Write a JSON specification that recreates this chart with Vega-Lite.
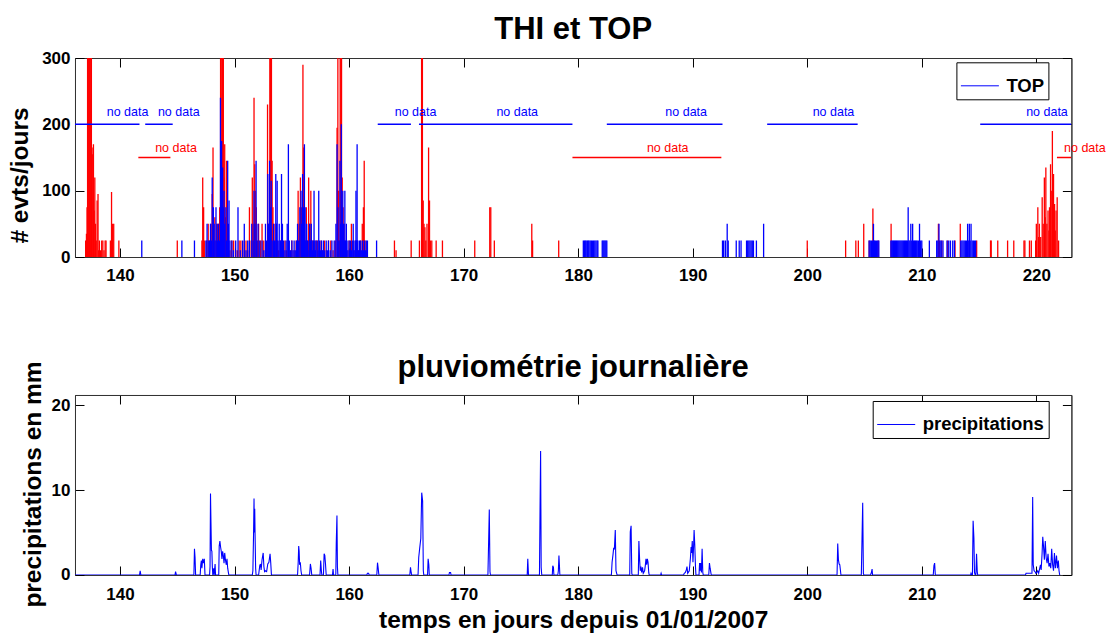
{
  "$schema": "https://vega.github.io/schema/vega-lite/v6.json",
  "padding": {"left": 7, "top": 13, "right": 0, "bottom": 0},
  "autosize": {"type": "pad"},
  "background": "#ffffff",
  "bounds": "flush",
  "spacing": 138,
  "config": {
    "font": "Liberation Sans",
    "view": {"stroke": "#333333", "strokeWidth": 1},
    "axis": {
      "grid": false,
      "domain": true,
      "domainColor": "#333333",
      "tickColor": "#000000",
      "tickSize": -9,
      "labelFontSize": 17,
      "labelFontWeight": "bold",
      "labelColor": "#000000",
      "titleColor": "#000000",
      "titleFontWeight": "bold",
      "titleFontSize": 24.5,
      "zindex": 1
    },
    "legend": {
      "orient": "none",
      "title": null,
      "symbolType": "stroke",
      "symbolSize": 1444,
      "symbolStrokeWidth": 1,
      "labelFontSize": 18.5,
      "labelFontWeight": "bold",
      "labelColor": "#000000",
      "strokeColor": "#000000",
      "fillColor": "#ffffff",
      "padding": 4,
      "labelOffset": 7
    },
    "title": {"font": "Liberation Sans", "fontSize": 31, "fontWeight": "bold", "color": "#000000", "anchor": "middle", "frame": "group", "baseline": "alphabetic"}
  },
  "datasets": {
    "thi": [
      {"d":137.00,"v":25},{"d":137.07,"v":35},{"d":137.12,"v":75},{"d":137.17,"v":350},{"d":137.23,"v":350},{"d":137.28,"v":350},{"d":137.33,"v":350},{"d":137.38,"v":237},{"d":137.44,"v":350},{"d":137.5,"v":350},{"d":137.56,"v":165},{"d":137.62,"v":155},{"d":137.68,"v":170},{"d":137.74,"v":70},{"d":137.8,"v":120},{"d":137.86,"v":50},{"d":137.92,"v":25},{"d":138.0,"v":85},{"d":138.08,"v":95},{"d":138.14,"v":10},{"d":138.2,"v":25},{"d":138.3,"v":10},{"d":138.4,"v":25},{"d":138.5,"v":25},{"d":138.6,"v":10},{"d":138.7,"v":25},{"d":138.78,"v":25},{"d":139.16,"v":25},{"d":139.26,"v":98},{"d":139.35,"v":50},{"d":139.45,"v":50},{"d":139.9,"v":25},
      {"d":145.0,"v":25},
      {"d":147.15,"v":25},{"d":147.22,"v":120},{"d":147.3,"v":75},{"d":147.36,"v":25},{"d":147.55,"v":25},{"d":147.7,"v":50},{"d":147.82,"v":25},{"d":147.95,"v":50},{"d":148.05,"v":95},{"d":148.12,"v":165},{"d":148.2,"v":25},{"d":148.28,"v":60},{"d":148.4,"v":25},{"d":148.5,"v":50},{"d":148.62,"v":50},{"d":148.7,"v":75},{"d":148.78,"v":350},{"d":148.84,"v":350},{"d":148.9,"v":140},{"d":148.96,"v":350},{"d":149.02,"v":350},{"d":149.08,"v":120},{"d":149.14,"v":170},{"d":149.2,"v":60},{"d":149.3,"v":145},{"d":149.38,"v":50},{"d":149.46,"v":25},{"d":149.6,"v":10},{"d":149.75,"v":25},{"d":149.92,"v":25},{"d":150.1,"v":10},{"d":150.25,"v":10},{"d":150.4,"v":25},{"d":150.55,"v":25},{"d":150.7,"v":10},{"d":150.85,"v":25},{"d":151.0,"v":25},{"d":151.15,"v":10},{"d":151.3,"v":75},{"d":151.45,"v":25},{"d":151.55,"v":120},{"d":151.62,"v":50},{"d":151.7,"v":240},{"d":151.76,"v":140},{"d":151.82,"v":100},{"d":151.9,"v":75},{"d":152.0,"v":25},{"d":152.1,"v":50},{"d":152.25,"v":25},{"d":152.4,"v":50},{"d":152.55,"v":25},{"d":152.7,"v":10},{"d":152.88,"v":230},{"d":152.95,"v":50},{"d":153.08,"v":350},{"d":153.15,"v":350},{"d":153.22,"v":350},{"d":153.28,"v":145},{"d":153.35,"v":75},{"d":153.45,"v":50},{"d":153.55,"v":25},{"d":153.65,"v":50},{"d":153.75,"v":25},{"d":153.85,"v":10},{"d":154.0,"v":25},{"d":154.1,"v":25},{"d":154.25,"v":10},{"d":154.4,"v":25},{"d":154.55,"v":10},{"d":154.7,"v":25},{"d":154.85,"v":10},{"d":155.0,"v":25},{"d":155.2,"v":10},{"d":155.38,"v":25},{"d":155.55,"v":100},{"d":155.65,"v":50},{"d":155.75,"v":120},{"d":155.85,"v":75},{"d":155.97,"v":290},{"d":156.04,"v":165},{"d":156.1,"v":50},{"d":156.18,"v":25},{"d":156.27,"v":75},{"d":156.36,"v":25},{"d":156.47,"v":120},{"d":156.56,"v":50},{"d":156.66,"v":100},{"d":156.75,"v":25},{"d":156.85,"v":25},{"d":157.0,"v":10},{"d":157.1,"v":25},{"d":157.25,"v":25},{"d":157.4,"v":10},{"d":157.55,"v":25},{"d":157.7,"v":10},{"d":157.85,"v":25},{"d":158.0,"v":10},{"d":158.2,"v":25},{"d":158.4,"v":25},{"d":158.6,"v":10},{"d":158.8,"v":25},{"d":158.95,"v":195},{"d":159.02,"v":350},{"d":159.08,"v":100},{"d":159.14,"v":25},{"d":159.22,"v":350},{"d":159.28,"v":350},{"d":159.34,"v":350},{"d":159.4,"v":120},{"d":159.48,"v":75},{"d":159.56,"v":50},{"d":159.65,"v":25},{"d":159.8,"v":10},{"d":160.0,"v":25},{"d":160.2,"v":50},{"d":160.4,"v":10},{"d":160.55,"v":25},{"d":160.7,"v":25},{"d":160.85,"v":10},{"d":161.0,"v":25},{"d":161.15,"v":50},{"d":161.25,"v":75},{"d":161.32,"v":145},{"d":161.4,"v":25},{"d":161.55,"v":10},
      {"d":163.96,"v":25},{"d":164.1,"v":10},{"d":165.42,"v":25},{"d":166.14,"v":25},{"d":166.33,"v":350},{"d":166.4,"v":350},{"d":166.47,"v":85},{"d":166.54,"v":50},{"d":166.62,"v":45},{"d":166.7,"v":25},{"d":166.8,"v":50},{"d":166.94,"v":165},{"d":167.02,"v":85},{"d":167.1,"v":25},{"d":167.22,"v":25},{"d":167.6,"v":25},{"d":168.15,"v":25},{"d":170.97,"v":25},{"d":172.28,"v":75},{"d":172.37,"v":75},{"d":172.68,"v":25},{"d":175.95,"v":50},{"d":176.02,"v":25},{"d":178.3,"v":25},
      {"d":200.0,"v":25},{"d":203.35,"v":25},{"d":204.24,"v":25},{"d":204.46,"v":25},{"d":204.93,"v":50},{"d":205.41,"v":25},{"d":205.73,"v":73},{"d":205.82,"v":25},{"d":206.2,"v":25},{"d":207.32,"v":50},{"d":211.45,"v":50},{"d":211.55,"v":25},{"d":211.75,"v":25},{"d":212.25,"v":25},{"d":212.9,"v":25},{"d":213.36,"v":50},{"d":214.15,"v":25},{"d":214.79,"v":25},{"d":216.0,"v":25},{"d":216.06,"v":25},{"d":216.63,"v":25},{"d":217.49,"v":25},{"d":218.03,"v":25},{"d":218.92,"v":25},{"d":219.0,"v":25},{"d":219.4,"v":25},{"d":219.56,"v":25},{"d":219.94,"v":25},{"d":220.0,"v":50},{"d":220.13,"v":75},{"d":220.2,"v":30},{"d":220.26,"v":50},{"d":220.38,"v":30},{"d":220.51,"v":90},{"d":220.6,"v":50},{"d":220.7,"v":120},{"d":220.77,"v":60},{"d":220.83,"v":135},{"d":220.92,"v":50},{"d":221.02,"v":70},{"d":221.1,"v":40},{"d":221.15,"v":75},{"d":221.24,"v":140},{"d":221.3,"v":100},{"d":221.4,"v":190},{"d":221.45,"v":60},{"d":221.5,"v":125},{"d":221.59,"v":80},{"d":221.65,"v":40},{"d":221.72,"v":70},{"d":221.82,"v":90},{"d":221.94,"v":25}
    ],
    "top": [
      {"d":141.9,"v":25},{"d":145.4,"v":25},{"d":146.5,"v":25},{"d":147.5,"v":25},{"d":147.6,"v":50},{"d":147.7,"v":25},{"d":147.8,"v":25},{"d":147.9,"v":50},{"d":148.0,"v":25},{"d":148.05,"v":120},{"d":148.15,"v":75},{"d":148.22,"v":50},{"d":148.3,"v":25},{"d":148.38,"v":75},{"d":148.45,"v":50},{"d":148.52,"v":25},{"d":148.6,"v":50},{"d":148.68,"v":25},{"d":148.77,"v":240},{"d":148.82,"v":100},{"d":148.87,"v":175},{"d":148.92,"v":50},{"d":148.96,"v":135},{"d":149.02,"v":75},{"d":149.08,"v":100},{"d":149.14,"v":50},{"d":149.24,"v":75},{"d":149.3,"v":25},{"d":149.4,"v":145},{"d":149.46,"v":50},{"d":149.52,"v":85},{"d":149.6,"v":25},{"d":149.77,"v":25},{"d":149.9,"v":10},{"d":150.1,"v":25},{"d":150.3,"v":75},{"d":150.5,"v":10},{"d":150.7,"v":25},{"d":150.85,"v":50},{"d":151.0,"v":10},{"d":151.15,"v":25},{"d":151.3,"v":25},{"d":151.5,"v":50},{"d":151.62,"v":25},{"d":151.7,"v":100},{"d":151.78,"v":50},{"d":151.88,"v":145},{"d":151.94,"v":25},{"d":152.05,"v":50},{"d":152.2,"v":25},{"d":152.4,"v":25},{"d":152.55,"v":10},{"d":152.7,"v":50},{"d":152.8,"v":25},{"d":152.9,"v":125},{"d":152.96,"v":50},{"d":153.06,"v":145},{"d":153.12,"v":75},{"d":153.2,"v":115},{"d":153.28,"v":25},{"d":153.4,"v":50},{"d":153.5,"v":25},{"d":153.6,"v":125},{"d":153.66,"v":50},{"d":153.72,"v":115},{"d":153.8,"v":25},{"d":153.9,"v":50},{"d":154.0,"v":25},{"d":154.1,"v":125},{"d":154.18,"v":50},{"d":154.28,"v":25},{"d":154.4,"v":10},{"d":154.5,"v":25},{"d":154.6,"v":50},{"d":154.7,"v":170},{"d":154.78,"v":25},{"d":154.9,"v":10},{"d":155.0,"v":25},{"d":155.1,"v":10},{"d":155.2,"v":25},{"d":155.3,"v":10},{"d":155.4,"v":25},{"d":155.5,"v":50},{"d":155.6,"v":25},{"d":155.7,"v":75},{"d":155.8,"v":100},{"d":155.86,"v":50},{"d":155.94,"v":125},{"d":156.02,"v":75},{"d":156.1,"v":170},{"d":156.16,"v":75},{"d":156.22,"v":25},{"d":156.3,"v":50},{"d":156.36,"v":25},{"d":156.42,"v":10},{"d":156.5,"v":25},{"d":156.56,"v":50},{"d":156.62,"v":25},{"d":156.7,"v":50},{"d":156.76,"v":25},{"d":156.82,"v":10},{"d":156.88,"v":25},{"d":156.94,"v":100},{"d":157.0,"v":25},{"d":157.06,"v":10},{"d":157.12,"v":25},{"d":157.2,"v":25},{"d":157.28,"v":10},{"d":157.35,"v":100},{"d":157.42,"v":25},{"d":157.5,"v":10},{"d":157.58,"v":25},{"d":157.66,"v":10},{"d":157.75,"v":25},{"d":157.85,"v":10},{"d":158.0,"v":25},{"d":158.1,"v":10},{"d":158.2,"v":25},{"d":158.35,"v":10},{"d":158.5,"v":25},{"d":158.7,"v":25},{"d":158.85,"v":50},{"d":158.95,"v":170},{"d":159.02,"v":75},{"d":159.1,"v":25},{"d":159.2,"v":145},{"d":159.26,"v":50},{"d":159.32,"v":200},{"d":159.4,"v":75},{"d":159.45,"v":100},{"d":159.52,"v":50},{"d":159.58,"v":25},{"d":159.63,"v":100},{"d":159.7,"v":25},{"d":159.76,"v":50},{"d":159.82,"v":25},{"d":159.9,"v":10},{"d":160.0,"v":25},{"d":160.06,"v":10},{"d":160.12,"v":25},{"d":160.2,"v":10},{"d":160.28,"v":25},{"d":160.36,"v":50},{"d":160.42,"v":25},{"d":160.5,"v":10},{"d":160.56,"v":25},{"d":160.6,"v":100},{"d":160.66,"v":25},{"d":160.7,"v":170},{"d":160.76,"v":25},{"d":160.82,"v":10},{"d":160.9,"v":25},{"d":160.96,"v":10},{"d":161.02,"v":25},{"d":161.1,"v":10},{"d":161.18,"v":25},{"d":161.26,"v":10},{"d":161.34,"v":25},{"d":161.42,"v":10},{"d":161.5,"v":25},{"d":161.6,"v":25},{"d":162.4,"v":25},
      {"d":180.45,"v":25},{"d":180.55,"v":25},{"d":180.62,"v":25},{"d":180.7,"v":25},{"d":180.8,"v":25},{"d":180.88,"v":25},{"d":180.95,"v":25},{"d":181.05,"v":25},{"d":181.15,"v":25},{"d":181.25,"v":25},{"d":181.35,"v":25},{"d":181.45,"v":25},{"d":181.55,"v":25},{"d":181.65,"v":25},{"d":181.72,"v":25},{"d":182.1,"v":25},{"d":182.18,"v":25},{"d":182.26,"v":25},{"d":182.34,"v":25},{"d":182.42,"v":25},{"d":182.5,"v":25},
      {"d":192.6,"v":25},{"d":192.7,"v":25},{"d":192.85,"v":25},{"d":193.01,"v":50},{"d":193.1,"v":25},{"d":193.8,"v":25},{"d":194.06,"v":25},{"d":194.22,"v":25},{"d":194.7,"v":25},{"d":194.8,"v":25},{"d":194.9,"v":25},{"d":195.0,"v":25},{"d":195.1,"v":25},{"d":195.2,"v":25},{"d":195.3,"v":25},{"d":195.56,"v":25},{"d":196.19,"v":50},
      {"d":205.4,"v":25},{"d":205.5,"v":25},{"d":205.6,"v":25},{"d":205.7,"v":25},{"d":205.78,"v":50},{"d":205.86,"v":25},{"d":205.95,"v":25},{"d":206.05,"v":25},{"d":206.15,"v":25},{"d":206.25,"v":25},
      {"d":207.3,"v":25},{"d":207.38,"v":25},{"d":207.46,"v":25},{"d":207.54,"v":25},{"d":207.62,"v":25},{"d":207.7,"v":25},{"d":207.78,"v":25},{"d":207.86,"v":25},{"d":207.94,"v":25},{"d":208.02,"v":25},{"d":208.1,"v":25},{"d":208.18,"v":25},{"d":208.26,"v":25},{"d":208.34,"v":25},{"d":208.42,"v":25},{"d":208.5,"v":25},{"d":208.58,"v":25},{"d":208.66,"v":25},{"d":208.74,"v":25},{"d":208.81,"v":75},{"d":208.88,"v":25},{"d":208.96,"v":25},{"d":209.04,"v":50},{"d":209.12,"v":25},{"d":209.2,"v":50},{"d":209.28,"v":25},{"d":209.36,"v":25},{"d":209.44,"v":25},{"d":209.52,"v":25},{"d":209.6,"v":25},{"d":209.7,"v":25},{"d":209.8,"v":50},{"d":209.9,"v":25},{"d":210.0,"v":25},
      {"d":210.66,"v":25},{"d":211.3,"v":25},{"d":211.4,"v":25},{"d":211.5,"v":50},{"d":211.6,"v":25},{"d":211.7,"v":25},{"d":211.85,"v":25},{"d":212.2,"v":25},{"d":212.35,"v":25},{"d":212.5,"v":25},{"d":212.7,"v":25},{"d":212.85,"v":25},{"d":213.4,"v":25},{"d":213.5,"v":25},{"d":213.6,"v":25},{"d":213.7,"v":25},{"d":213.8,"v":25},{"d":213.9,"v":25},{"d":214.0,"v":50},{"d":214.1,"v":25},{"d":214.15,"v":50},{"d":214.22,"v":25},{"d":214.3,"v":50},{"d":214.4,"v":25},{"d":214.5,"v":25},{"d":214.6,"v":25},{"d":214.7,"v":25}
    ],
    "seg": [
      {"d1":136.07,"d2":141.7,"v":200,"s":"TOP"},
      {"d1":142.2,"d2":144.6,"v":200,"s":"TOP"},
      {"d1":162.5,"d2":165.4,"v":200,"s":"TOP"},
      {"d1":166.1,"d2":179.5,"v":200,"s":"TOP"},
      {"d1":182.5,"d2":192.6,"v":200,"s":"TOP"},
      {"d1":196.5,"d2":204.4,"v":200,"s":"TOP"},
      {"d1":215.1,"d2":223.06,"v":200,"s":"TOP"},
      {"d1":141.6,"d2":144.4,"v":150,"s":"THI"},
      {"d1":179.5,"d2":192.5,"v":150,"s":"THI"},
      {"d1":221.8,"d2":223.06,"v":150,"s":"THI"}
    ],
    "lab": [
      {"d":138.84,"v":212,"s":"TOP"},
      {"d":143.31,"v":212,"s":"TOP"},
      {"d":163.98,"v":212,"s":"TOP"},
      {"d":172.86,"v":212,"s":"TOP"},
      {"d":187.61,"v":212,"s":"TOP"},
      {"d":200.47,"v":212,"s":"TOP"},
      {"d":219.11,"v":212,"s":"TOP"},
      {"d":143.07,"v":158,"s":"THI"},
      {"d":186.0,"v":158,"s":"THI"},
      {"d":222.42,"v":158,"s":"THI"}
    ],
    "rain": [
      {"d":136.07,"mm":0},
      {"d":141.70,"mm":0},{"d":141.76,"mm":0.5},{"d":141.82,"mm":0},
      {"d":144.80,"mm":0},{"d":144.85,"mm":0.4},{"d":144.92,"mm":0},
      {"d":146.45,"mm":0},{"d":146.50,"mm":3.1},{"d":146.55,"mm":2.1},{"d":146.6,"mm":0},
      {"d":147.0,"mm":0},{"d":147.05,"mm":1.2},{"d":147.1,"mm":1.7},{"d":147.15,"mm":0.8},{"d":147.22,"mm":1.9},{"d":147.3,"mm":1.4},{"d":147.36,"mm":1.9},{"d":147.42,"mm":0},
      {"d":147.82,"mm":0},{"d":147.86,"mm":1.0},{"d":147.90,"mm":9.6},{"d":147.94,"mm":6.2},{"d":147.98,"mm":2.9},{"d":148.02,"mm":2.8},{"d":148.06,"mm":1.0},{"d":148.1,"mm":0},{"d":148.18,"mm":0.8},{"d":148.22,"mm":0},{"d":148.3,"mm":1.3},{"d":148.34,"mm":0},
      {"d":148.62,"mm":0},{"d":148.66,"mm":3.4},{"d":148.72,"mm":4.0},{"d":148.78,"mm":3.3},{"d":148.84,"mm":2.8},{"d":148.9,"mm":1.9},{"d":148.96,"mm":2.8},{"d":149.02,"mm":2.3},{"d":149.08,"mm":1.4},{"d":149.14,"mm":2.6},{"d":149.2,"mm":1.8},{"d":149.28,"mm":1.2},{"d":149.34,"mm":1.9},{"d":149.4,"mm":0.8},{"d":149.46,"mm":0.3},{"d":149.5,"mm":0},
      {"d":151.55,"mm":0},{"d":151.6,"mm":0.5},{"d":151.66,"mm":4.9},{"d":151.7,"mm":9.0},{"d":151.73,"mm":5.0},{"d":151.76,"mm":7.8},{"d":151.8,"mm":4.0},{"d":151.84,"mm":0.8},{"d":151.88,"mm":0},
      {"d":152.1,"mm":0},{"d":152.2,"mm":1.1},{"d":152.26,"mm":1.3},{"d":152.32,"mm":0.6},{"d":152.4,"mm":1.8},{"d":152.5,"mm":2.6},{"d":152.56,"mm":1.0},{"d":152.62,"mm":0.4},{"d":152.7,"mm":0.5},{"d":152.8,"mm":0.4},{"d":152.9,"mm":1.3},{"d":153.0,"mm":1.5},{"d":153.1,"mm":2.5},{"d":153.16,"mm":1.4},{"d":153.22,"mm":0},
      {"d":155.5,"mm":0},{"d":155.56,"mm":1.6},{"d":155.6,"mm":3.4},{"d":155.64,"mm":2.8},{"d":155.68,"mm":1.2},{"d":155.74,"mm":1.5},{"d":155.8,"mm":0.5},{"d":155.86,"mm":0},
      {"d":156.55,"mm":0},{"d":156.62,"mm":1.3},{"d":156.68,"mm":0.8},{"d":156.74,"mm":0},
      {"d":157.46,"mm":0},{"d":157.52,"mm":1.7},{"d":157.58,"mm":0.5},{"d":157.62,"mm":0},
      {"d":157.76,"mm":0},{"d":157.82,"mm":2.5},{"d":157.88,"mm":2.3},{"d":157.94,"mm":1.3},{"d":158.0,"mm":0},
      {"d":158.55,"mm":0},{"d":158.6,"mm":0.7},{"d":158.64,"mm":0},{"d":158.84,"mm":0},{"d":158.88,"mm":3.8},{"d":158.94,"mm":7.0},{"d":158.98,"mm":1.0},{"d":159.02,"mm":0},
      {"d":161.55,"mm":0},{"d":161.6,"mm":0.2},{"d":161.7,"mm":0.2},{"d":161.75,"mm":0},
      {"d":162.42,"mm":0},{"d":162.48,"mm":1.45},{"d":162.54,"mm":0.8},{"d":162.6,"mm":0},
      {"d":165.3,"mm":0},{"d":165.36,"mm":0.9},{"d":165.42,"mm":0.3},{"d":165.46,"mm":0},
      {"d":166.02,"mm":0},{"d":166.08,"mm":2.1},{"d":166.16,"mm":3.1},{"d":166.26,"mm":4.3},{"d":166.34,"mm":9.7},{"d":166.42,"mm":8.7},{"d":166.48,"mm":0.5},{"d":166.52,"mm":0},
      {"d":166.85,"mm":0},{"d":166.9,"mm":1.9},{"d":166.96,"mm":1.2},{"d":167.0,"mm":0},
      {"d":168.72,"mm":0},{"d":168.76,"mm":0.3},{"d":168.86,"mm":0.3},{"d":168.9,"mm":0},
      {"d":172.12,"mm":0},{"d":172.18,"mm":3.8},{"d":172.24,"mm":7.7},{"d":172.3,"mm":0.4},{"d":172.34,"mm":0},
      {"d":175.55,"mm":0},{"d":175.6,"mm":1.9},{"d":175.66,"mm":0},
      {"d":176.62,"mm":0},{"d":176.67,"mm":7.7},{"d":176.72,"mm":14.6},{"d":176.77,"mm":0.9},{"d":176.82,"mm":0},
      {"d":177.74,"mm":0},{"d":177.78,"mm":1.1},{"d":177.84,"mm":0.9},{"d":177.88,"mm":0},
      {"d":178.22,"mm":0},{"d":178.27,"mm":0.5},{"d":178.32,"mm":2.3},{"d":178.36,"mm":1.2},{"d":178.4,"mm":0},
      {"d":182.9,"mm":0},{"d":182.96,"mm":1.5},{"d":183.04,"mm":2.4},{"d":183.1,"mm":3.2},{"d":183.16,"mm":3.0},{"d":183.24,"mm":5.3},{"d":183.3,"mm":0.5},{"d":183.36,"mm":0.2},{"d":183.4,"mm":0},
      {"d":184.5,"mm":0},{"d":184.55,"mm":5.1},{"d":184.62,"mm":5.8},{"d":184.68,"mm":0.2},{"d":184.72,"mm":0},
      {"d":185.25,"mm":0},{"d":185.3,"mm":4.0},{"d":185.36,"mm":1.9},{"d":185.42,"mm":0.5},{"d":185.48,"mm":1.0},{"d":185.54,"mm":0.3},{"d":185.62,"mm":0.9},{"d":185.68,"mm":0.2},{"d":185.8,"mm":0.5},{"d":185.86,"mm":1.1},{"d":185.92,"mm":1.9},{"d":185.98,"mm":1.2},{"d":186.04,"mm":1.9},{"d":186.1,"mm":1.5},{"d":186.16,"mm":0.3},{"d":186.2,"mm":0},
      {"d":187.2,"mm":0},{"d":187.24,"mm":0.2},{"d":187.28,"mm":0},
      {"d":189.2,"mm":0},{"d":189.26,"mm":0.2},{"d":189.36,"mm":0.3},{"d":189.44,"mm":0.6},{"d":189.5,"mm":1.0},{"d":189.56,"mm":0.2},{"d":189.7,"mm":0.5},{"d":189.8,"mm":2.0},{"d":189.86,"mm":3.3},{"d":189.9,"mm":2.6},{"d":189.96,"mm":4.0},{"d":190.02,"mm":1.5},{"d":190.08,"mm":3.5},{"d":190.12,"mm":5.3},{"d":190.18,"mm":3.5},{"d":190.24,"mm":1.0},{"d":190.28,"mm":0},
      {"d":190.55,"mm":0},{"d":190.6,"mm":1.4},{"d":190.66,"mm":0.5},{"d":190.7,"mm":1.4},{"d":190.76,"mm":0.3},{"d":190.82,"mm":3.1},{"d":190.88,"mm":0.3},{"d":190.92,"mm":0},
      {"d":191.4,"mm":0},{"d":191.46,"mm":1.4},{"d":191.52,"mm":0.8},{"d":191.58,"mm":0.3},{"d":191.62,"mm":0},
      {"d":202.6,"mm":0},{"d":202.66,"mm":3.7},{"d":202.72,"mm":1.8},{"d":202.78,"mm":1.3},{"d":202.84,"mm":1.2},{"d":202.9,"mm":0.5},{"d":202.94,"mm":0},
      {"d":204.72,"mm":0},{"d":204.78,"mm":4.2},{"d":204.84,"mm":8.5},{"d":204.9,"mm":0.2},{"d":204.94,"mm":0},
      {"d":205.52,"mm":0},{"d":205.58,"mm":0.2},{"d":205.66,"mm":0.7},{"d":205.7,"mm":0},
      {"d":211.0,"mm":0},{"d":211.06,"mm":1.1},{"d":211.12,"mm":1.4},{"d":211.18,"mm":0},
      {"d":214.26,"mm":0},{"d":214.3,"mm":0.2},{"d":214.36,"mm":0},{"d":214.42,"mm":0},{"d":214.48,"mm":6.4},{"d":214.55,"mm":4.3},{"d":214.6,"mm":0.3},{"d":214.66,"mm":0},{"d":214.72,"mm":0},{"d":214.78,"mm":2.5},{"d":214.84,"mm":0.4},{"d":214.88,"mm":0},
      {"d":219.05,"mm":0},{"d":219.1,"mm":0.2},{"d":219.4,"mm":0.2},{"d":219.62,"mm":0.2},{"d":219.68,"mm":9.2},{"d":219.73,"mm":1.2},{"d":219.8,"mm":0.5},{"d":219.88,"mm":0.4},{"d":219.96,"mm":0.2},{"d":220.04,"mm":0.3},{"d":220.12,"mm":0.5},{"d":220.2,"mm":0.2},{"d":220.28,"mm":0.7},{"d":220.36,"mm":1.2},{"d":220.42,"mm":0.6},{"d":220.5,"mm":2.5},{"d":220.56,"mm":4.5},{"d":220.62,"mm":3.5},{"d":220.7,"mm":1.8},{"d":220.78,"mm":4.0},{"d":220.86,"mm":2.0},{"d":220.94,"mm":1.4},{"d":221.02,"mm":2.5},{"d":221.1,"mm":1.0},{"d":221.18,"mm":1.4},{"d":221.26,"mm":0.8},{"d":221.34,"mm":3.1},{"d":221.42,"mm":1.2},{"d":221.5,"mm":0.5},{"d":221.58,"mm":2.6},{"d":221.66,"mm":0.8},{"d":221.76,"mm":2.3},{"d":221.84,"mm":0.8},{"d":221.92,"mm":1.7},{"d":221.98,"mm":0.5},{"d":222.04,"mm":0}
    ]
  },
  "resolve": {"scale": {"color": "independent"}, "legend": {"color": "independent"}},
  "vconcat": [
    {
      "width": 996.4,
      "height": 199,
      "title": {"text": "THI et TOP", "offset": 3},
      "resolve": {"axis": {"x": "independent", "y": "independent"}},
      "layer": [
        {
          "data": {"name": "thi"},
          "mark": {"type": "rule", "strokeWidth": 1.3, "clip": true},
          "encoding": {
            "x": {"field": "d", "type": "quantitative", "scale": {"domain": [136.07, 223.06], "nice": false, "zero": false},
                  "axis": {"orient": "bottom", "values": [140,150,160,170,180,190,200,210,220], "title": null, "labelPadding": 19, "format": "d"}},
            "y": {"field": "v", "type": "quantitative", "scale": {"domain": [0, 300], "nice": false},
                  "axis": {"orient": "left", "values": [0,100,200,300], "labelPadding": 14, "title": "# evts/jours", "titleAngle": -90, "titleX": -66, "titleY": 117, "titleAlign": "center", "titleBaseline": "top"}},
            "y2": {"datum": 0},
            "color": {"datum": "THI", "type": "nominal", "scale": {"domain": ["TOP", "THI"], "range": ["#0000ff", "#ff0000"]}, "legend": {"values": ["TOP"], "legendX": 881.4, "legendY": 4.3}}
          }
        },
        {
          "data": {"name": "top"},
          "mark": {"type": "rule", "strokeWidth": 1.3, "clip": true},
          "encoding": {
            "x": {"field": "d", "type": "quantitative", "axis": {"orient": "top", "values": [140,150,160,170,180,190,200,210,220], "labels": false, "title": null}},
            "y": {"field": "v", "type": "quantitative", "axis": {"orient": "right", "values": [0,100,200,300], "labels": false, "title": null}},
            "y2": {"datum": 0},
            "color": {"datum": "TOP", "type": "nominal"}
          }
        },
        {
          "data": {"name": "seg"},
          "transform": [{"filter": "datum.s === 'TOP'"}],
          "mark": {"type": "rule", "strokeWidth": 1.5, "clip": true},
          "encoding": {
            "x": {"field": "d1", "type": "quantitative", "axis": null},
            "x2": {"field": "d2"},
            "y": {"field": "v", "type": "quantitative", "axis": null},
            "color": {"datum": "TOP", "type": "nominal"}
          }
        },
        {
          "data": {"name": "seg"},
          "transform": [{"filter": "datum.s === 'THI'"}],
          "mark": {"type": "rule", "strokeWidth": 1.6, "clip": true},
          "encoding": {
            "x": {"field": "d1", "type": "quantitative", "axis": null},
            "x2": {"field": "d2"},
            "y": {"field": "v", "type": "quantitative", "axis": null},
            "color": {"datum": "THI", "type": "nominal"}
          }
        },
        {
          "data": {"name": "lab"},
          "mark": {"type": "text", "text": "no data", "align": "left", "baseline": "alphabetic", "fontSize": 12.5, "font": "Liberation Sans"},
          "encoding": {
            "x": {"field": "d", "type": "quantitative", "axis": null},
            "y": {"field": "v", "type": "quantitative", "axis": null},
            "color": {"field": "s", "type": "nominal"}
          }
        }
      ]
    },
    {
      "width": 996.4,
      "height": 180,
      "title": {"text": "pluviométrie journalière", "offset": -23},
      "resolve": {"axis": {"x": "independent", "y": "independent"}},
      "layer": [
        {
          "data": {"name": "rain"},
          "mark": {"type": "line", "strokeWidth": 1.1, "clip": true},
          "encoding": {
            "x": {"field": "d", "type": "quantitative", "scale": {"domain": [136.07, 223.06], "nice": false, "zero": false},
                  "axis": {"orient": "bottom", "values": [140,150,160,170,180,190,200,210,220], "labelPadding": 21, "format": "d", "title": "temps en jours depuis 01/01/2007", "titleY": 53, "titleBaseline": "alphabetic", "titleAlign": "center"}},
            "y": {"field": "mm", "type": "quantitative", "scale": {"domain": [0, 21.2], "nice": false},
                  "axis": {"orient": "left", "values": [0,10,20], "labelPadding": 14, "title": "precipitations en mm", "titleAngle": -90, "titleX": -53, "titleY": 89, "titleAlign": "center", "titleBaseline": "top"}},
            "color": {"datum": "precipitations", "type": "nominal", "scale": {"domain": ["precipitations"], "range": ["#0000ff"]}, "legend": {"legendX": 797.7, "legendY": 6}}
          }
        },
        {
          "data": {"name": "rain"},
          "mark": {"type": "point", "opacity": 0},
          "encoding": {
            "x": {"field": "d", "type": "quantitative", "axis": {"orient": "top", "values": [140,150,160,170,180,190,200,210,220], "labels": false, "title": null}},
            "y": {"field": "mm", "type": "quantitative", "axis": {"orient": "right", "values": [0,10,20], "labels": false, "title": null}}
          }
        }
      ]
    }
  ]
}
